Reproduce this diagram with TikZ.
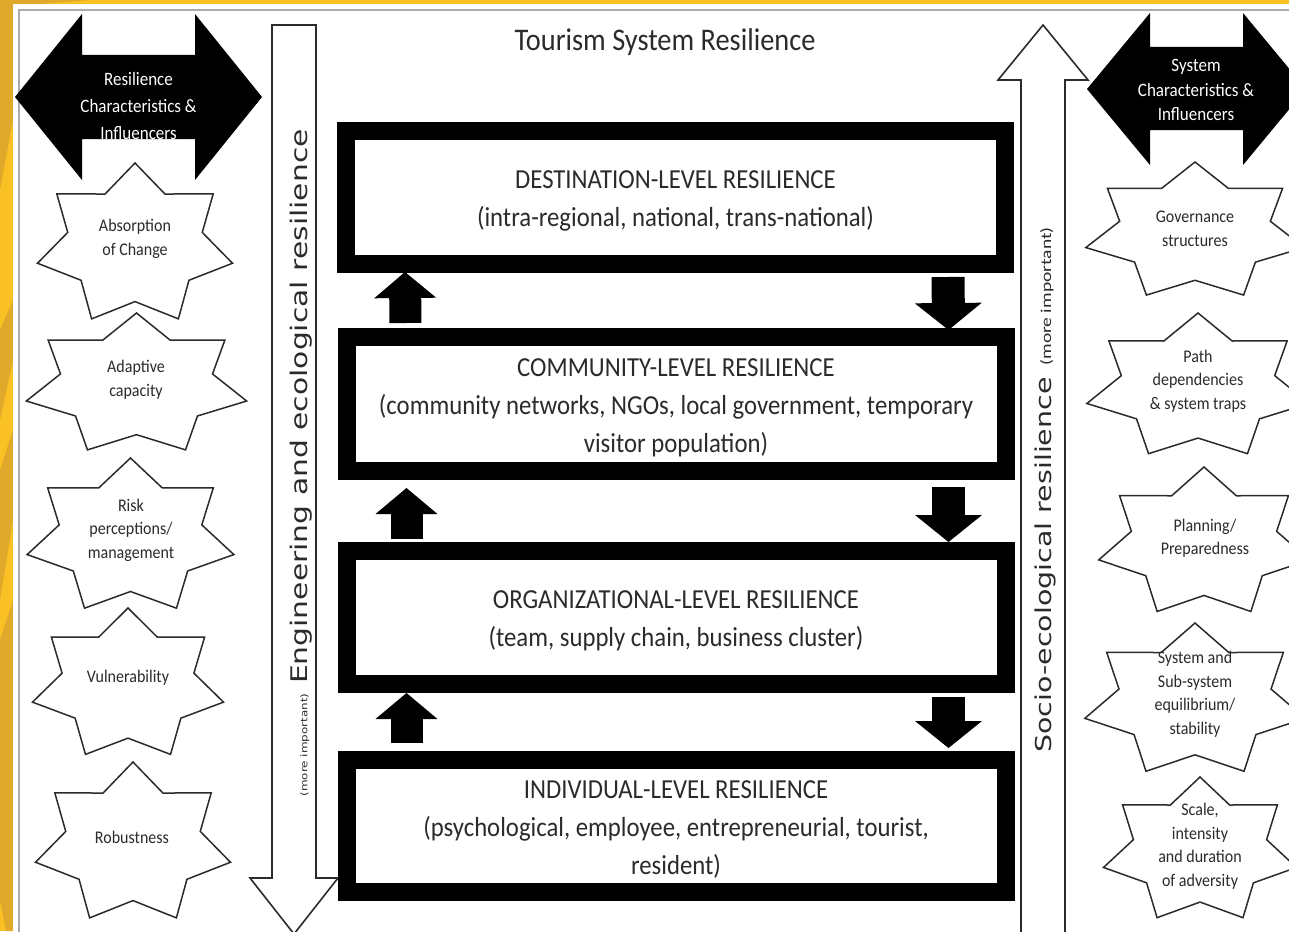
\documentclass[tikz,border=0pt]{standalone}
\usepackage{fontspec}
\setmainfont{Carlito}[FakeStretch=0.9]
\newfontfamily\rotsans{DejaVu Sans}[FakeStretch=1.3]
\newfontfamily\rotcal{Carlito}[FakeStretch=1.3]
\usetikzlibrary{arrows.meta,calc}
\definecolor{bgyellow}{HTML}{FAC124}
\definecolor{bgorange}{HTML}{E0A92B}
\definecolor{framegrey}{HTML}{ABABAB}
\definecolor{inkgrey}{HTML}{2B2B2B}
\tikzset{
  starline/.style={draw=inkgrey, fill=white, line width=1.5pt, line join=miter},
  startext/.style={align=center, text=inkgrey, font=\fontsize{17.8}{23.5}\selectfont, inner sep=0pt},
  dbltext/.style={align=center, text=white, font=\fontsize{18.9}{27}\selectfont, inner sep=0pt},
  bigarrow/.style={draw=inkgrey, fill=white, line width=1.6pt, line join=miter},
  levelbox/.style={draw=black, line width=18pt, fill=white, minimum width=659pt, inner sep=0pt},
  leveltext/.style={align=center, text=inkgrey, font=\fontsize{27.5}{38}\selectfont, inner sep=0pt},
  upblock/.style={draw=black, line width=32pt, line cap=butt,
    -{Triangle[width=62pt,length=26pt,line width=0pt]}},
  downblock/.style={draw=black, line width=33pt, line cap=butt,
    -{Triangle[width=67pt,length=27pt,line width=0pt]}}
}
\newcommand{\sevenstar}[4]{%
  \filldraw[starline] ({#1},{#2-#4})
    foreach \k [evaluate=\k as \ang using -90+\k*180/7,
                evaluate=\k as \fac using 0.845+0.155*cos(\k*180)] in {1,...,13}
    { -- ({#1+\fac*#3*cos(\ang)},{#2+\fac*#4*sin(\ang)}) } -- cycle;}
\begin{document}
\begin{tikzpicture}[x=1pt,y=-1pt]
\useasboundingbox (0,0) rectangle (1289,931);
\clip (0,0) rectangle (1289,931);
% background
\fill[bgyellow] (0,0) rectangle (1289,931);
\fill[bgorange] (0,0) -- (90,0) -- (40,4) -- (13,40) -- (13,120) -- (0,190) -- cycle;
\fill[bgorange] (0,330) -- (13,300) -- (13,360) -- (0,420) -- cycle;
\fill[bgorange] (0,470) -- (13,430) -- (13,520) -- (0,600) -- cycle;
\fill[bgorange] (0,640) -- (13,600) -- (13,931) -- (6,931) -- (0,900) -- cycle;
\fill[white] (13,4) rectangle (1289,931);
\draw[framegrey, line width=2.5pt] (19,935) -- (19,10) -- (1295,10);

% vertical arrows
\draw[bigarrow] (272,25) -- (316,25) -- (316,878) -- (338,878) -- (294,934) -- (250,878) -- (272,878) -- cycle;
\draw[bigarrow] (1043,25) -- (1088,80) -- (1065,80) -- (1065,945) -- (1021,945) -- (1021,80) -- (998,80) -- cycle;

% double arrows
\fill[black] (15,97) -- (82,14) -- (82,55) -- (195,55) -- (195,14) -- (262,97) -- (195,180) -- (195,139) -- (82,139) -- (82,180) -- cycle;
\fill[black] (1087,89) -- (1150,13) -- (1150,47) -- (1243,47) -- (1243,13) -- (1306,89) -- (1243,165) -- (1243,130) -- (1150,130) -- (1150,165) -- cycle;
\node[dbltext] (lefthead) at (138.5,106) {Resilience\\Characteristics \&\\Influencers};
\node[dbltext, font=\fontsize{18.9}{24.5}\selectfont] (righthead) at (1196,90) {System\\Characteristics \&\\Influencers};

% stars, left
\sevenstar{135}{245}{100}{82}
\sevenstar{136.5}{385}{113}{72}
\sevenstar{130.5}{537}{106}{79}
\sevenstar{128}{685}{98}{77}
\sevenstar{133}{844}{100}{82}
% stars, right
\sevenstar{1195}{232}{112}{70}
\sevenstar{1198}{387}{114}{74}
\sevenstar{1204}{543}{108}{76}
\sevenstar{1195}{701}{113}{78}
\sevenstar{1200}{851}{99}{74}

\node[startext] (absorb) at (135,239) {Absorption\\of Change};
\node[startext] (adapt) at (136,380) {Adaptive\\capacity};
\node[startext] (risk) at (131,530) {Risk\\perceptions/\\management};
\node[startext] (vuln) at (128,678) {Vulnerability};
\node[startext] (robust) at (132,837) {Robustness};
\node[startext] (govern) at (1195,229) {Governance\\structures};
\node[startext] (path) at (1198,381) {Path\\dependencies\\\& system traps};
\node[startext] (plan) at (1205,538) {Planning/\\Preparedness};
\node[startext] (equil) at (1195,694) {System and\\Sub-system\\equilibrium/\\stability};
\node[startext] (scale) at (1200,846) {Scale,\\intensity\\and duration\\of adversity};

% rotated labels
\node[rotate=90, text=inkgrey, inner sep=0pt] (englabel) at (301,463)
  {\rotsans\fontsize{9.2}{11}\selectfont (more important)\fontsize{22.9}{27}\selectfont\ Engineering and ecological resilience};
\node[rotate=90, text=inkgrey, inner sep=0pt] (soclabel) at (1045,490)
  {{\rotsans\fontsize{21.9}{26}\selectfont Socio-ecological resilience}\hspace{12pt}{\rotcal\fontsize{15}{18}\selectfont (more important)}};

% title
\node[text=inkgrey, font=\fontsize{31.5}{36}\selectfont, inner sep=0pt] (title) at (665,42) {Tourism System Resilience};

% level boxes
\node[levelbox, minimum height=133pt] (dest) at (675.5,197.5) {};
\node[levelbox, minimum height=134pt] (comm) at (676,404) {};
\node[levelbox, minimum height=133pt] (org) at (676,617.5) {};
\node[levelbox, minimum height=132pt] (indiv) at (676,826) {};
\node[leveltext] (desttext) at ([yshift=-3.5pt]dest.center) {DESTINATION-LEVEL RESILIENCE\\(intra-regional, national, trans-national)};
\node[leveltext] (commtext) at ([yshift=-4pt]comm.center) {COMMUNITY-LEVEL RESILIENCE\\(community networks, NGOs, local government, temporary\\visitor population)};
\node[leveltext] (orgtext) at ([yshift=-3.5pt]org.center) {ORGANIZATIONAL-LEVEL RESILIENCE\\(team, supply chain, business cluster)};
\node[leveltext] (indivtext) at ([yshift=-3pt]indiv.center) {INDIVIDUAL-LEVEL RESILIENCE\\(psychological, employee, entrepreneurial, tourist,\\resident)};

% block arrows between levels
\draw[upblock, shorten <=5pt, shorten >=-1pt] ([xshift=68pt]comm.north west) -- ([xshift=68pt]dest.south west);
\draw[upblock, shorten <=3pt, shorten >=8pt] ([xshift=69pt]org.north west) -- ([xshift=69pt]comm.south west);
\draw[upblock, shorten <=8pt, shorten >=0pt] ([xshift=69pt]indiv.north west) -- ([xshift=69pt]org.south west);
\draw[downblock, shorten <=4pt, shorten >=-2pt] ([xshift=-66pt]dest.south east) -- ([xshift=-66pt]comm.north east);
\draw[downblock, shorten <=7pt, shorten >=0pt] ([xshift=-66pt]comm.south east) -- ([xshift=-66pt]org.north east);
\draw[downblock, shorten <=4pt, shorten >=3pt] ([xshift=-66pt]org.south east) -- ([xshift=-66pt]indiv.north east);
\end{tikzpicture}
\end{document}
